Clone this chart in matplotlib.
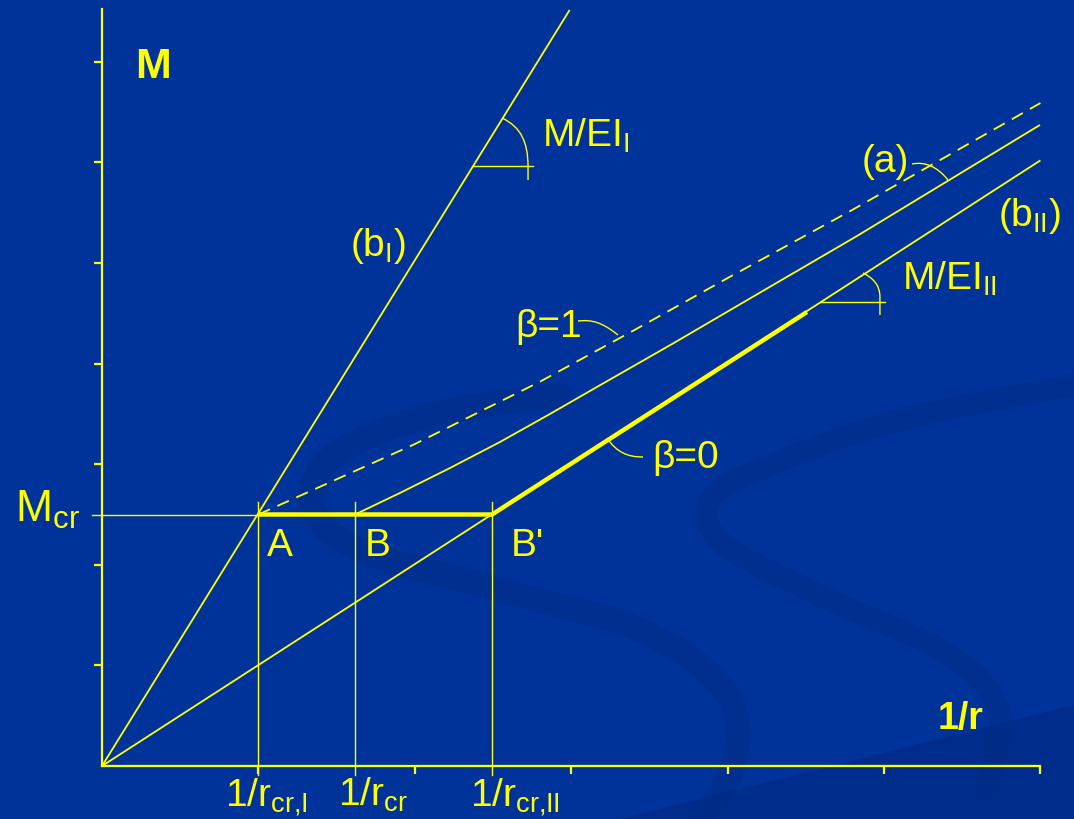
import matplotlib
matplotlib.use("Agg")
import matplotlib.pyplot as plt
import numpy as np
from matplotlib.path import Path
from matplotlib.patches import PathPatch, Polygon

plt.rcParams['font.family'] = ['Liberation Sans', 'DejaVu Sans']
plt.rcParams['mathtext.fontset'] = 'custom'
plt.rcParams['mathtext.rm'] = 'Liberation Sans'
plt.rcParams['mathtext.bf'] = 'Liberation Sans:bold'

# moment-curvature diagram, values in diagram units
m_cr = 2.5
k_cr = [1.0, 1.618, 2.494]            # 1/r_cr,I  1/r_cr  1/r_cr,II
x_ticks = [1, 2, 3, 4, 5, 6]
y_ticks = [1, 2, 3, 4, 5, 6, 7]
x_end, y_end = 6.0, 7.52

state1_x = [0.0, 2.99]                # (b_I) uncracked
state1_y = [0.0, 7.515]
state2_x = [0.0, 6.0]                 # (b_II) fully cracked
state2_y = [0.0, 6.02]

beta1_x = [1.0, 1.6, 2.0, 2.4, 2.8, 3.4, 4.0, 4.8, 6.0]
beta1_y = [2.5, 2.92, 3.20, 3.51, 3.82, 4.33, 4.85, 5.53, 6.59]

curve_a_x = [1.618, 1.905, 2.225, 2.545, 2.864, 3.184, 3.651, 4.290, 4.827, 5.997]
curve_a_y = [2.5, 2.714, 2.962, 3.221, 3.499, 3.785, 4.200, 4.781, 5.268, 6.372]

beta0_x = [1.0, 2.494, 4.508]
beta0_y = [2.5, 2.5, 4.513]

YEL = '#ffff00'
BG = '#003399'
DARK = '#00287f'

fig = plt.figure(figsize=(10.74, 8.19), dpi=100)
fig.patch.set_facecolor(BG)

# background swirls (pixel coordinates)
bg = fig.add_axes([0, 0, 1, 1])
bg.set_xlim(0, 1074)
bg.set_ylim(819, 0)
bg.axis('off')
bg.set_facecolor(BG)


def smooth(pts, n=20):
    p = np.array(pts, float)
    p = np.vstack([p[0], p, p[-1]])
    out = []
    for i in range(1, len(p) - 2):
        p0, p1, p2, p3 = p[i - 1], p[i], p[i + 1], p[i + 2]
        for t in np.linspace(0, 1, n, endpoint=False):
            out.append(0.5 * ((2 * p1) + (-p0 + p2) * t
                              + (2 * p0 - 5 * p1 + 4 * p2 - p3) * t ** 2
                              + (-p0 + 3 * p1 - 3 * p2 + p3) * t ** 3))
    out.append(p[-2])
    return np.array(out)


s1 = smooth([(560, 395), (430, 415), (335, 455), (312, 505), (360, 550),
             (500, 590), (640, 630), (725, 690), (735, 760), (700, 819)])
bg.plot(s1[:, 0], s1[:, 1], color=DARK, lw=18, alpha=0.35, solid_capstyle='round')
s2 = smooth([(1074, 385), (900, 420), (770, 465), (710, 500), (725, 545),
             (830, 600), (950, 655), (1000, 715), (985, 790)])
bg.plot(s2[:, 0], s2[:, 1], color=DARK, lw=16, alpha=0.35, solid_capstyle='round')
bg.add_patch(Polygon([(620, 819), (1074, 705), (1074, 819)], closed=True,
                     facecolor=DARK, edgecolor='none', alpha=0.5))

# main diagram
ax = fig.add_axes([0, 0, 1, 1])
ax.set_facecolor('none')
ax.set_xlim(-102 / 156.4, (1074 - 102) / 156.4)
ax.set_ylim((766 - 819) / 100.6, 766 / 100.6)

for side in ['top', 'right']:
    ax.spines[side].set_visible(False)
ax.spines['left'].set_position(('data', 0))
ax.spines['bottom'].set_position(('data', 0))
ax.spines['left'].set_bounds(0, y_end)
ax.spines['bottom'].set_bounds(0, x_end)
for side in ['left', 'bottom']:
    ax.spines[side].set_color(YEL)
    ax.spines[side].set_linewidth(1.6)
ax.set_xticks(x_ticks)
ax.set_yticks(y_ticks)
ax.tick_params(axis='both', direction='out', length=6, width=1.6,
               color=YEL, labelbottom=False, labelleft=False)

thin = dict(color=YEL, lw=1.3, solid_capstyle='butt')
ax.plot(state1_x, state1_y, **thin)
ax.plot(state2_x, state2_y, **thin)
ax.plot(curve_a_x, curve_a_y, **thin)
ax.plot(beta1_x, beta1_y, color=YEL, lw=1.3, linestyle=(0, (7, 4.5)))
ax.plot(beta0_x, beta0_y, color=YEL, lw=3.2, solid_capstyle='butt')

# M_cr level and cracking curvatures
ax.plot([-0.064, k_cr[0]], [m_cr, m_cr], color=YEL, lw=1.0)
for k in k_cr:
    ax.plot([k, k], [-0.09, m_cr + 0.12], color=YEL, lw=1.0)


def curve(pts, lw=1.0):
    codes = [Path.MOVETO] + [Path.CURVE4] * 3 + [Path.LINETO] * (len(pts) - 4)
    ax.add_patch(PathPatch(Path(pts, codes), facecolor='none', edgecolor=YEL, lw=lw))


# slope markers
ax.plot([2.373, 2.756], [5.964, 5.964], color=YEL, lw=1.0)
curve([(2.558, 6.441), (2.68, 6.35), (2.724, 6.20), (2.724, 5.954), (2.724, 5.825)])
ax.plot([4.60, 5.006], [4.612, 4.612], color=YEL, lw=1.0)
curve([(4.866, 4.901), (4.93, 4.85), (4.974, 4.78), (4.974, 4.662), (4.974, 4.483)])

# leaders
curve([(5.179, 5.984), (5.26, 6.01), (5.34, 5.96), (5.409, 5.825)])
curve([(3.043, 4.423), (3.13, 4.44), (3.20, 4.41), (3.299, 4.284)])
curve([(3.459, 3.072), (3.36, 3.07), (3.29, 3.12), (3.229, 3.260)])

txt = dict(color=YEL, ha='left', va='baseline')
ax.text(0.211, 6.839, 'M', fontsize=31, fontweight='bold', **txt)
ax.text(5.345, 0.368, '1/r', fontsize=27, fontweight='bold', **txt)
ax.text(-0.556, 2.425, r'M$_\mathrm{cr}$', fontsize=32, **txt)
ax.text(1.055, 2.087, 'A', fontsize=28, **txt)
ax.text(1.682, 2.087, 'B', fontsize=28, **txt)
ax.text(2.615, 2.087, "B'", fontsize=28, **txt)
ax.text(0.786, -0.398, r'1/r$_\mathrm{cr{,}I}$', fontsize=28, **txt)
ax.text(1.509, -0.398, r'1/r$_\mathrm{cr}$', fontsize=28, **txt)
ax.text(2.353, -0.398, r'1/r$_\mathrm{cr{,}II}$', fontsize=28, **txt)
ax.text(1.586, 5.07, r'(b$_\mathrm{I}$)', fontsize=28, **txt)
ax.text(2.813, 6.153, r'M/EI$_\mathrm{I}$', fontsize=28, **txt)
ax.text(4.859, 5.905, '(a)', fontsize=28, **txt)
ax.text(5.729, 5.368, r'(b$_\mathrm{II}$)', fontsize=28, **txt)
ax.text(5.115, 4.732, r'M/EI$_\mathrm{II}$', fontsize=28, **txt)
ax.text(2.641, 4.264, 'β=1', fontsize=28, **txt)
ax.text(3.517, 2.962, 'β=0', fontsize=28, **txt)

fig.savefig('out.png', dpi=100, facecolor=BG)
